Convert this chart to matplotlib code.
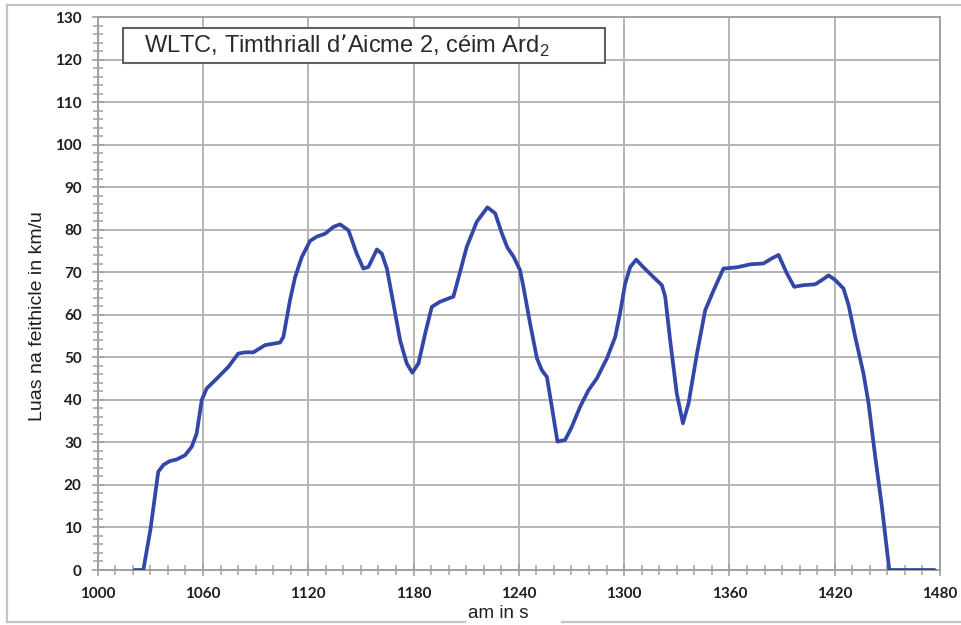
import matplotlib
matplotlib.use("Agg")
import matplotlib.pyplot as plt
from matplotlib.patches import Rectangle
from matplotlib.lines import Line2D
from matplotlib.ticker import MultipleLocator

# ---- data ----
time_s = [1021, 1026, 1030, 1034.5, 1037.4, 1041, 1045, 1049.8, 1053.6, 1056.4,
          1059.3, 1062.1, 1067.8, 1074.5, 1080.1, 1084, 1088.7, 1095.4, 1103.9, 1105.8,
          1109.6, 1112.5, 1116.3, 1121, 1124.8, 1129.6, 1134.3, 1138.1, 1142.9, 1147.6,
          1151.4, 1154.3, 1159.1, 1161.9, 1164.8, 1168.5, 1172.3, 1176.1, 1179.3, 1182.8,
          1186.6, 1190.4, 1195.1, 1202.7, 1206.5, 1210.3, 1216, 1222.1, 1226.5, 1230.3,
          1233.5, 1237, 1240.7, 1242.6, 1246.4, 1250.3, 1253.1, 1256, 1258.8, 1262,
          1266.4, 1270.2, 1274.9, 1279.7, 1284.5, 1290.2, 1294.9, 1297.8, 1300.6, 1303.5,
          1306.9, 1311, 1316.7, 1321.5, 1323.4, 1326.2, 1330, 1333.5, 1336.7, 1341.5,
          1346.2, 1351, 1356.6, 1364.3, 1371.9, 1379.4, 1384.2, 1388, 1392.8, 1396.9,
          1402.2, 1408.9, 1412.7, 1416.5, 1420.3, 1425, 1427.9, 1431.7, 1436.4, 1439.3,
          1443.1, 1446.9, 1451.1, 1477]
speed_kmh = [0, 0, 9.4, 23.1, 24.7, 25.6, 26, 27, 29, 32.1,
             40, 42.7, 45, 47.8, 50.9, 51.2, 51.2, 52.9, 53.5, 54.8,
             63.5, 68.9, 73.6, 77.4, 78.4, 79.1, 80.7, 81.3, 79.9, 74.4,
             70.9, 71.3, 75.4, 74.4, 70.9, 62.7, 54.1, 48.6, 46.4, 48.6,
             55.6, 61.9, 63.1, 64.3, 70.1, 76, 81.9, 85.3, 83.9, 79.2,
             75.8, 73.7, 70.5, 66.6, 58, 49.8, 47, 45.4, 38.4, 30.2,
             30.6, 33.7, 38.4, 42.3, 45.1, 49.8, 54.8, 60.7, 67.4, 71.3,
             73, 71.2, 68.9, 67, 64.3, 54.1, 41.5, 34.5, 39.2, 50.9,
             61.1, 65.8, 70.9, 71.2, 71.9, 72.1, 73.3, 74.1, 69.7, 66.6,
             67, 67.2, 68.2, 69.3, 68.2, 66.2, 62.3, 54.8, 46.2, 39.2,
             26.6, 14.9, 0, 0]

x_ticks = [1000, 1060, 1120, 1180, 1240, 1300, 1360, 1420, 1480]
y_ticks = list(range(0, 131, 10))

title_text = "WLTC, Timthriall d\u2019Aicme 2, c\u00e9im Ard$_{\\mathregular{2}}$"
y_label = "Luas na feithicle in km/u"
x_label = "am in s"

# ---- figure ----
W, H = 961, 625
fig = plt.figure(figsize=(W / 100, H / 100), dpi=100)
ax = fig.add_axes([97.7 / W, 1 - 570 / H, (940 - 97.7) / W, (570 - 17.3) / H])

grid_col = "#b4b4b4"
ax.plot(time_s, speed_kmh, color="#3447a6", lw=2.7, solid_joinstyle="round",
        solid_capstyle="round", zorder=3)

ax.set_xlim(1000, 1480)
ax.set_ylim(0, 130)
ax.set_xticks(x_ticks)
ax.set_yticks(y_ticks)
ax.xaxis.set_minor_locator(MultipleLocator(10))
ax.yaxis.set_minor_locator(MultipleLocator(2))
ax.grid(True, which="major", color=grid_col, lw=1.4, zorder=1)
for s in ax.spines.values():
    s.set_color("#a0a0a0")
    s.set_linewidth(1.4)

ax.tick_params(which="major", direction="inout", length=9, width=1.2,
               color="#a0a0a0", labelsize=11, labelcolor="#1e1e1e")
ax.tick_params(which="minor", direction="inout", length=7, width=1.1,
               color="#a0a0a0")
ax.tick_params(axis="x", which="major", pad=8)
ax.tick_params(axis="y", which="major", pad=7)
for lab in ax.get_xticklabels() + ax.get_yticklabels():
    lab.set_fontfamily("Lato")
    lab.set_fontweight("bold")

# y label
fig.text(38 / W, 1 - 316 / H, y_label, rotation=90, ha="center", va="center",
         fontsize=14, family="Liberation Sans", color="#1e1e1e")
# x label
fig.text(498 / W, 1 - 613 / H, x_label, ha="center", va="center",
         fontsize=13.5, family="Liberation Sans", color="#1e1e1e")

# title box
fig.patches.append(Rectangle((123 / W, 1 - 63 / H), (605 - 123) / W, (63 - 28) / H,
                             transform=fig.transFigure, facecolor="white",
                             edgecolor="#606060", lw=1.5, zorder=5))
fig.text(144 / W, 1 - 46 / H, title_text, ha="left", va="center", fontsize=17,
         family="Liberation Sans", color="#2a2a2a", zorder=6)

# outer border (left, top, bottom with gap behind x label)
bc = "#c4c4c4"
for xs, ys in [([7, 7], [5, 622]), ([7, W], [5, 5]), ([7, 465], [622, 622]),
               ([562, W], [622, 622])]:
    fig.lines.append(Line2D([x / W for x in xs], [1 - y / H for y in ys],
                            transform=fig.transFigure, color=bc, lw=1.6))

fig.savefig("out.png", dpi=100)
